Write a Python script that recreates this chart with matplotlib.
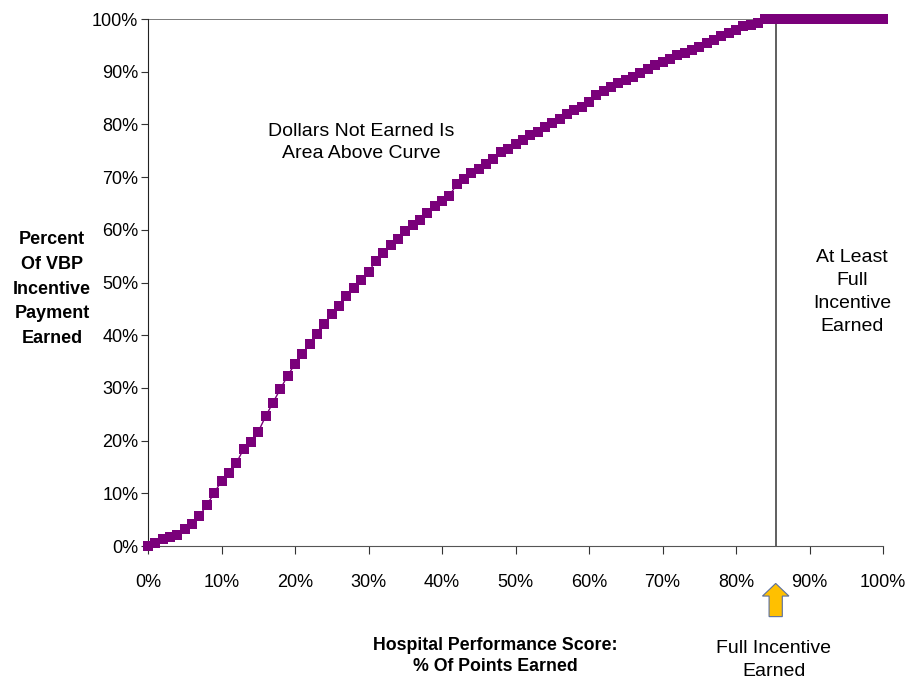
import matplotlib.pyplot as plt
from matplotlib.patches import FancyArrow

# percent of points earned (x) and percent of incentive payment earned (y)
score = list(range(0, 101))
earned = [0, 0.5, 1.3, 1.8, 2.1, 3.2, 4.2, 5.7, 7.8, 10.0,
          12.4, 13.9, 15.7, 18.4, 19.8, 21.7, 24.6, 27.2, 29.8, 32.3,
          34.6, 36.4, 38.4, 40.3, 42.2, 44.1, 45.5, 47.4, 48.9, 50.4,
          52.0, 54.1, 55.6, 57.2, 58.3, 59.8, 60.9, 61.9, 63.2, 64.5,
          65.5, 66.5, 68.6, 69.7, 70.8, 71.6, 72.5, 73.5, 74.8, 75.4,
          76.3, 77.1, 77.9, 78.5, 79.6, 80.2, 81.1, 81.9, 82.7, 83.4,
          84.2, 85.6, 86.3, 87.1, 87.8, 88.5, 89.0, 89.7, 90.6, 91.3,
          91.8, 92.5, 93.1, 93.5, 94.2, 94.7, 95.4, 96.0, 96.7, 97.3,
          98.0, 98.6, 98.9, 99.2, 100, 100, 100, 100, 100, 100,
          100, 100, 100, 100, 100, 100, 100, 100, 100, 100, 100]
full_incentive = 85.4
ticks = list(range(0, 101, 10))
tick_labels = [f"{t}%" for t in ticks]

plt.rcParams['font.family'] = ['Liberation Sans', 'DejaVu Sans']

fig = plt.figure(figsize=(9.12, 6.82), dpi=100)
ax = fig.add_axes([0.1623, 0.1994, 0.8059, 0.7727])

ax.plot(score, earned, color='#7a007a', linewidth=1, marker='s',
        markersize=6.6, markeredgewidth=0, clip_on=False, zorder=3)

# frame lines marking full incentive
ax.plot([0, full_incentive], [100, 100], color='#666666', linewidth=1.2, zorder=2)
ax.plot([full_incentive, full_incentive], [0, 100], color='#444444', linewidth=1.2, zorder=2)

ax.set_xlim(0, 100)
ax.set_ylim(0, 100)
ax.spines['top'].set_visible(False)
ax.spines['right'].set_visible(False)
ax.spines['left'].set_color('#222222')
ax.spines['bottom'].set_color('#555555')
ax.set_xticks(ticks)
ax.set_xticklabels(tick_labels, fontsize=13)
ax.set_yticks(ticks)
ax.set_yticklabels(tick_labels, fontsize=13)
ax.tick_params(axis='x', length=6, direction='out', pad=14, color='#333333')
ax.tick_params(axis='y', length=5, direction='out', pad=2, color='#333333')

ax.text(29, 76.5, "Dollars Not Earned Is\nArea Above Curve", ha='center', va='center',
        fontsize=14, linespacing=1.4)
ax.text(95.8, 48.2, "At Least\nFull\nIncentive\nEarned", ha='center', va='center',
        fontsize=14, linespacing=1.48)

fig.text(52 / 912, 1 - 289 / 682, "Percent\nOf VBP\nIncentive\nPayment\nEarned",
         ha='center', va='center', fontsize=13, fontweight='bold', linespacing=1.6)
fig.text(495 / 912, 1 - 656 / 682, "Hospital Performance Score:\n% Of Points Earned",
         ha='center', va='center', fontsize=12.8, fontweight='bold', linespacing=1.35)
fig.text(774 / 912, 1 - 660 / 682, "Full Incentive\nEarned",
         ha='center', va='center', fontsize=14, linespacing=1.42)

arrow = FancyArrow(full_incentive, -13.4, 0, 6.3, width=1.8, head_width=3.6,
                   head_length=2.4, length_includes_head=True,
                   facecolor='#ffc000', edgecolor='#5a6fa0', linewidth=0.8,
                   clip_on=False)
ax.add_patch(arrow)

fig.savefig("out.png", dpi=100)
plt.close()
